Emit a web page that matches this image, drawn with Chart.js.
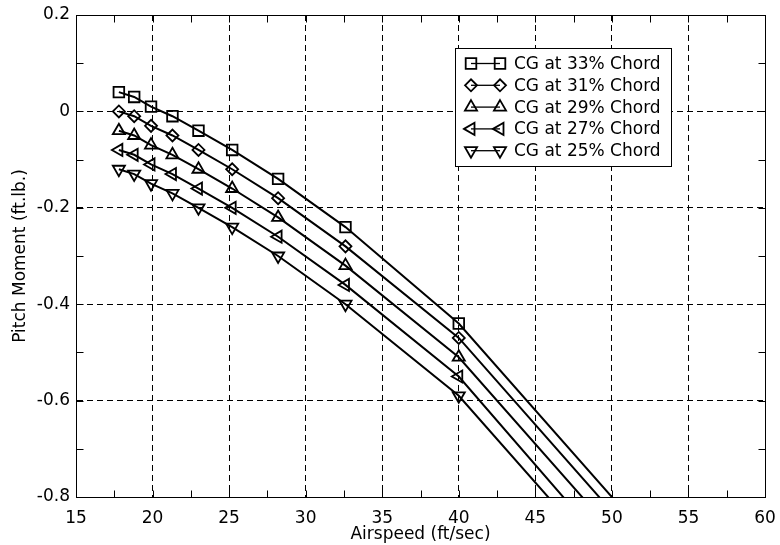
<!DOCTYPE html>
<html>
<head>
<meta charset="utf-8">
<script src="https://cdn.jsdelivr.net/npm/chart.js@4.4.1/dist/chart.umd.min.js"></script>
<style>
  html, body { margin: 0; padding: 0; background: #fff; }
</style>
</head>
<body>
<canvas id="chart" width="780" height="545"></canvas>
<script>
// Airspeed (ft/sec) of the test points. The last one lies below the plot,
// it only carries each line off the bottom of the axes.
const airspeed = [17.8, 18.8, 19.9, 21.3, 23.0, 25.2, 28.2, 32.6, 40.0, 55.0];

// Pitch moment (ft.lb.) for each CG position
const cg33 = [0.04, 0.03, 0.01, -0.01, -0.04, -0.08, -0.14, -0.24, -0.44, -0.98];
const cg31 = [0.00, -0.01, -0.03, -0.05, -0.08, -0.12, -0.18, -0.28, -0.47, -1.01];
const cg29 = [-0.04, -0.05, -0.07, -0.09, -0.12, -0.16, -0.22, -0.32, -0.51, -1.05];
const cg27 = [-0.08, -0.09, -0.11, -0.13, -0.16, -0.20, -0.26, -0.36, -0.55, -1.10];
const cg25 = [-0.12, -0.13, -0.15, -0.17, -0.20, -0.24, -0.30, -0.40, -0.59, -1.13];

const seriesValues = [cg33, cg31, cg29, cg27, cg25];
const seriesLabels = ['CG at 33% Chord', 'CG at 31% Chord', 'CG at 29% Chord', 'CG at 27% Chord', 'CG at 25% Chord'];

// axis limits and major tick steps
const xRange = [15, 60];
const xStep = 5;
const yRange = [-0.8, 0.2];
const yStep = 0.2;

const FONT = 'DejaVu Sans';

// matlab style markers: square, diamond, triangle up / left / down
const markers = [
  { style: 'rect', rotation: 0, radius: 7.5 },
  { style: 'rectRot', rotation: 0, radius: 6 },
  { style: 'triangle', rotation: 0, radius: 7 },
  { style: 'triangle', rotation: -90, radius: 7 },
  { style: 'triangle', rotation: 180, radius: 7 }
];

// Box around the axes + inward tick marks on all four sides
const frameTicks = {
  id: 'frameTicks',
  afterDraw(chart) {
    const { ctx, chartArea: a, scales: { x, y } } = chart;
    const L = Math.round(a.left) + 0.5, R = Math.round(a.right) + 0.5;
    const T = Math.round(a.top) + 0.5, B = Math.round(a.bottom) + 0.5;
    const len = 7;

    const withMinors = (scale) => {
      const vals = scale.ticks.map(t => t.value);
      const out = [];
      vals.forEach((v, i) => {
        out.push(v);
        if (i < vals.length - 1) out.push((v + vals[i + 1]) / 2);
      });
      return out;
    };

    ctx.save();
    ctx.strokeStyle = '#000';
    ctx.lineWidth = 1;
    ctx.beginPath();
    withMinors(x).forEach(v => {
      const p = Math.round(x.getPixelForValue(v)) + 0.5;
      ctx.moveTo(p, B); ctx.lineTo(p, B - len);
      ctx.moveTo(p, T); ctx.lineTo(p, T + len);
    });
    withMinors(y).forEach(v => {
      const p = Math.round(y.getPixelForValue(v)) + 0.5;
      ctx.moveTo(L, p); ctx.lineTo(L + len, p);
      ctx.moveTo(R, p); ctx.lineTo(R - len, p);
    });
    ctx.stroke();
    ctx.strokeRect(L, T, R - L, B - T);
    ctx.restore();
  }
};

// Legend with a short line and a marker at each end, like matlab draws it
const legendBox = {
  id: 'legendBox',
  afterDraw(chart) {
    const ctx = chart.ctx;
    const x0 = 455.5, y0 = 48.5, w = 216, h = 118;
    ctx.save();
    ctx.fillStyle = '#fff';
    ctx.fillRect(x0, y0, w, h);
    ctx.strokeStyle = '#000';
    ctx.lineWidth = 1;
    ctx.strokeRect(x0, y0, w, h);
    ctx.font = '17px "' + FONT + '"';
    ctx.textBaseline = 'middle';
    chart.data.datasets.forEach((ds, i) => {
      const yy = y0 + 15 + i * 21.8;
      ctx.strokeStyle = '#000';
      ctx.lineWidth = 1.3;
      ctx.beginPath();
      ctx.moveTo(471, yy);
      ctx.lineTo(500, yy);
      ctx.stroke();
      ctx.fillStyle = 'rgba(0,0,0,0)';
      ctx.lineWidth = ds.pointBorderWidth;
      [471, 500].forEach(px => {
        Chart.helpers.drawPoint(ctx, {
          pointStyle: ds.pointStyle,
          rotation: ds.pointRotation,
          radius: ds.pointRadius,
          borderWidth: ds.pointBorderWidth
        }, px, yy);
      });
      ctx.fillStyle = '#000';
      ctx.fillText(ds.label, 514, yy + 1);
    });
    ctx.restore();
  }
};

const tickFont = { family: FONT, size: 17 };

new Chart(document.getElementById('chart'), {
  type: 'line',
  data: {
    datasets: seriesValues.map((vals, i) => ({
      label: seriesLabels[i],
      data: airspeed.map((v, j) => ({ x: v, y: vals[j] })),
      borderColor: '#000',
      borderWidth: 2,
      tension: 0,
      fill: false,
      pointStyle: markers[i].style,
      pointRotation: markers[i].rotation,
      pointRadius: markers[i].radius,
      pointBorderColor: '#000',
      pointBackgroundColor: 'rgba(0,0,0,0)',
      pointBorderWidth: 1.8
    }))
  },
  options: {
    responsive: false,
    animation: false,
    events: [],
    layout: { padding: { left: 0, top: 15, right: 15, bottom: 0 } },
    plugins: {
      legend: { display: false },
      tooltip: { enabled: false }
    },
    scales: {
      x: {
        type: 'linear',
        min: xRange[0],
        max: xRange[1],
        ticks: { stepSize: xStep, color: '#000', font: tickFont, padding: 11, maxRotation: 0, autoSkip: false },
        grid: { color: '#000', lineWidth: 1, drawTicks: false },
        border: { display: true, color: '#000', dash: [6, 4] },
        title: { display: true, text: 'Airspeed (ft/sec)', color: '#000', font: tickFont, padding: 0 },
        afterFit: s => { s.height = 48; s.paddingLeft = 0; s.paddingRight = 0; }
      },
      y: {
        type: 'linear',
        min: yRange[0],
        max: yRange[1],
        ticks: {
          stepSize: yStep, color: '#000', font: tickFont, padding: 6,
          callback: v => String(Math.round(v * 10) / 10)
        },
        grid: { color: '#000', lineWidth: 1, drawTicks: false },
        border: { display: true, color: '#000', dash: [6, 4] },
        title: { display: true, text: 'Pitch Moment (ft.lb.)', color: '#000', font: tickFont, padding: { top: 10, bottom: 0 } },
        afterFit: s => { s.width = 76; s.paddingTop = 0; s.paddingBottom = 0; }
      }
    }
  },
  plugins: [frameTicks, legendBox]
});
</script>
</body>
</html>
